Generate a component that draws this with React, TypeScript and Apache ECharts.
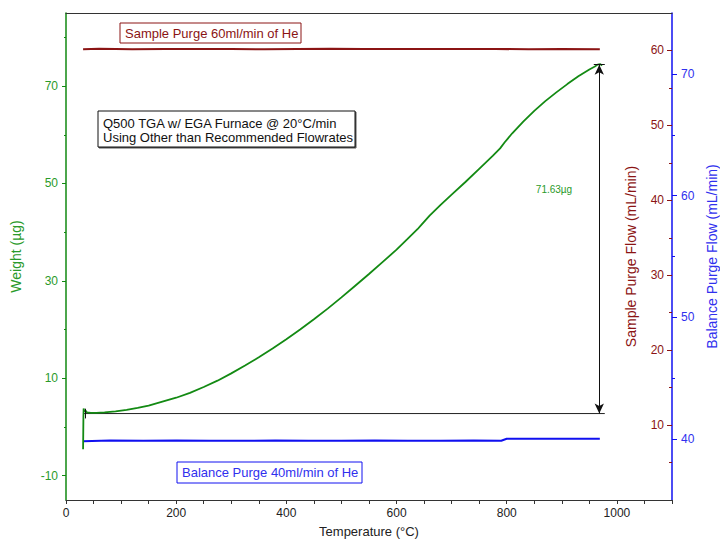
import React, { useEffect, useRef } from "react";
import * as echarts from "echarts";

// ---- data ----
const weightTemp = [31, 31.3, 31.6, 32, 33, 35, 38, 45, 55, 70, 90, 110, 130, 150, 175, 200, 225, 250, 275, 300, 325, 350, 375, 400, 425, 450, 475, 500, 525, 550, 575, 600, 620, 638, 645, 660, 680, 700, 725, 750, 775, 788, 796, 810, 830, 850, 870, 890, 910, 930, 950, 960, 965, 970, 973];
const weightVals = [-4.6, -1.5, 2.0, 3.8, 3.2, 3.4, 3.0, 2.9, 2.9, 3.0, 3.2, 3.5, 3.9, 4.4, 5.2, 6.0, 7.0, 8.2, 9.5, 11.0, 12.6, 14.3, 16.1, 18.0, 20.0, 22.1, 24.3, 26.6, 29.0, 31.4, 33.9, 36.4, 38.6, 40.6, 41.5, 43.4, 45.6, 47.7, 50.3, 53.0, 55.7, 57.2, 58.4, 60.3, 62.7, 64.9, 66.9, 68.7, 70.4, 72.0, 73.4, 74.0, 74.4, 74.5, 74.2];

const sampleTemp = [31, 60, 120, 180, 240, 300, 360, 420, 480, 540, 600, 660, 720, 780, 840, 900, 969];
const sampleFlow = [60.15, 60.22, 60.15, 60.2, 60.18, 60.2, 60.15, 60.2, 60.22, 60.18, 60.2, 60.2, 60.18, 60.2, 60.15, 60.18, 60.15];

const balanceTemp = [31, 80, 140, 200, 260, 320, 380, 440, 500, 560, 620, 680, 740, 790, 800, 860, 920, 969];
const balanceFlow = [39.82, 39.88, 39.86, 39.88, 39.86, 39.86, 39.88, 39.86, 39.86, 39.88, 39.86, 39.86, 39.88, 39.87, 40.03, 40.04, 40.03, 40.04];

const xLabelValues = [0, 200, 400, 600, 800, 1000];
const xTickValues = [0, 50, 100, 150, 200, 250, 300, 350, 400, 450, 500, 550, 600, 650, 700, 750, 800, 850, 900, 950, 1000, 1050, 1100];
const weightLabelValues = [-10, 10, 30, 50, 70];
const weightMinorValues = [0, 20, 40, 60, 80];
const sampleLabelValues = [10, 20, 30, 40, 50, 60];
const sampleMinorValues = [5, 15, 25, 35, 45, 55];
const balanceLabelValues = [40, 50, 60, 70];
const balanceMinorValues = [45, 55, 65];

// step annotation (weight change)
const stepStartTemp = 31;
const stepEndTemp = 978;
const stepArrowTemp = 968;
const stepBase = 2.75;
const stepTop = 74.38;
const stepLabel = "71.63µg";

const FONT = '"Liberation Sans", Arial, sans-serif';
const GREEN = "#138a13";
const GREEN_TXT = "#2a9a2a";
const RED = "#8b1414";
const BLUE = "#1010f0";
const BLUE_TXT = "#3030ee";

const zip = (a: number[], b: number[]) => a.map((v, i) => [v, b[i]]);
const plain = (v: number) => String(v);

export default function App() {
  const ref = useRef<HTMLDivElement>(null);
  useEffect(() => {
    const chart = echarts.init(ref.current!, null, { renderer: "svg" });
    const option: any = {
      animation: false,
      backgroundColor: "#fff",
      grid: { left: 66, right: 48, top: 13, bottom: 41, outerBoundsMode: "none" },
      xAxis: [
        {
          type: "value", min: 0, max: 1100, position: "bottom",
          axisLine: { onZero: false, lineStyle: { color: "#333", width: 1 } },
          axisTick: { customValues: xTickValues, length: 4, lineStyle: { color: "#333" } },
          axisLabel: { customValues: xLabelValues, formatter: plain, color: "#222", fontSize: 12, fontFamily: FONT, margin: 7 },
          splitLine: { show: false },
          name: "Temperature (°C)", nameLocation: "middle", nameGap: 25,
          nameTextStyle: { color: "#222", fontSize: 13, fontFamily: FONT },
        },
        {
          type: "value", min: 0, max: 1100, position: "top",
          axisLine: { show: true, onZero: false, lineStyle: { color: "#333", width: 1 } },
          axisTick: { show: false }, axisLabel: { show: false }, splitLine: { show: false },
        },
      ],
      yAxis: [
        {
          type: "value", min: -15, max: 85, position: "left",
          axisLine: { show: true, onZero: false, lineStyle: { color: "#118811", width: 1.5 } },
          axisTick: { customValues: weightLabelValues, length: 4, lineStyle: { color: "#118811" } },
          axisLabel: { customValues: weightLabelValues, formatter: plain, color: GREEN_TXT, fontSize: 12, fontFamily: FONT, margin: 8 },
          splitLine: { show: false },
          name: "Weight (µg)", nameLocation: "middle", nameGap: 43,
          nameTextStyle: { color: GREEN_TXT, fontSize: 14, fontFamily: FONT },
        },
        {
          type: "value", min: -15, max: 85, position: "left",
          axisLine: { show: false, onZero: false },
          axisTick: { customValues: weightMinorValues, length: 2, lineStyle: { color: "#118811" } },
          axisLabel: { show: false }, splitLine: { show: false },
        },
        {
          type: "value", min: 0, max: 65, position: "right",
          axisLine: { show: false, onZero: false },
          axisTick: { show: true, inside: true, customValues: sampleLabelValues, length: 5, lineStyle: { color: RED } },
          axisLabel: { inside: true, customValues: sampleLabelValues, formatter: plain, color: RED, fontSize: 12, fontFamily: FONT, margin: 8 },
          splitLine: { show: false },
          name: "Sample Purge Flow (mL/min)", nameLocation: "middle", nameGap: -48,
          nameTextStyle: { color: RED, fontSize: 14, fontFamily: FONT },
        },
        {
          type: "value", min: 0, max: 65, position: "right",
          axisLine: { show: false, onZero: false },
          axisTick: { show: true, inside: true, customValues: sampleMinorValues, length: 3, lineStyle: { color: RED } },
          axisLabel: { show: false }, splitLine: { show: false },
        },
        {
          type: "value", min: 35, max: 75, position: "right",
          axisLine: { show: true, onZero: false, lineStyle: { color: BLUE, width: 1.5 } },
          axisTick: { show: true, customValues: balanceLabelValues, length: 5, lineStyle: { color: BLUE } },
          axisLabel: { customValues: balanceLabelValues, formatter: plain, color: BLUE_TXT, fontSize: 12, fontFamily: FONT, margin: 9 },
          splitLine: { show: false },
          name: "Balance Purge Flow (mL/min)", nameLocation: "middle", nameGap: 33,
          nameTextStyle: { color: BLUE_TXT, fontSize: 14, fontFamily: FONT },
        },
        {
          type: "value", min: 35, max: 75, position: "right",
          axisLine: { show: false, onZero: false },
          axisTick: { show: true, customValues: balanceMinorValues, length: 3, lineStyle: { color: BLUE } },
          axisLabel: { show: false }, splitLine: { show: false },
        },
      ],
      series: [
        {
          type: "line", name: "Sample Purge", xAxisIndex: 0, yAxisIndex: 2, data: zip(sampleTemp, sampleFlow),
          symbol: "none", lineStyle: { color: RED, width: 2 }, silent: true,
        },
        {
          type: "line", name: "Balance Purge", xAxisIndex: 0, yAxisIndex: 4, data: zip(balanceTemp, balanceFlow),
          symbol: "none", lineStyle: { color: BLUE, width: 2 }, silent: true,
        },
        {
          type: "line", name: "Step", xAxisIndex: 0, yAxisIndex: 0,
          data: [[stepStartTemp, stepBase], [stepEndTemp, stepBase]],
          symbol: "none", lineStyle: { color: "#222", width: 1 }, silent: true,
          markLine: {
            silent: true, animation: false,
            symbol: ["arrow", "arrow"], symbolSize: [7, 10],
            label: { show: false },
            lineStyle: { color: "#111", width: 1, type: "solid" },
            data: [
              [{ coord: [stepArrowTemp, stepBase] }, { coord: [stepArrowTemp, stepTop] }],
              [{ coord: [stepArrowTemp - 10, stepTop], symbol: "none" }, { coord: [stepArrowTemp + 10, stepTop], symbol: "none" }],
              [{ coord: [stepStartTemp + 4, stepBase - 1.0], symbol: "none" }, { coord: [stepStartTemp + 4, stepBase + 1.0], symbol: "none" }],
            ],
          },
        },
        {
          type: "line", name: "Weight", xAxisIndex: 0, yAxisIndex: 0, data: zip(weightTemp, weightVals),
          symbol: "none", lineStyle: { color: GREEN, width: 1.8 }, silent: true,
        },
      ],
      graphic: [
        { type: "rect", shape: { x: 120, y: 23, width: 181, height: 20 }, style: { fill: "#fff", stroke: RED, lineWidth: 1 } },
        { type: "text", x: 125, y: 33, style: { text: "Sample Purge 60ml/min of He", fill: RED, font: `13px ${FONT}`, textVerticalAlign: "middle" } },
        { type: "rect", shape: { x: 99, y: 112, width: 257, height: 36 }, style: { fill: "#555", stroke: "#555", lineWidth: 1 } },
        { type: "rect", shape: { x: 98, y: 111, width: 257, height: 36 }, style: { fill: "#fff", stroke: "#111", lineWidth: 1 } },
        { type: "text", x: 103, y: 123, style: { text: "Q500 TGA w/ EGA Furnace @ 20°C/min", fill: "#111", font: `13px ${FONT}`, textVerticalAlign: "middle" } },
        { type: "text", x: 103, y: 137, style: { text: "Using Other than Recommended Flowrates", fill: "#111", font: `13px ${FONT}`, textVerticalAlign: "middle" } },
        { type: "rect", shape: { x: 177, y: 462, width: 185, height: 21 }, style: { fill: "#fff", stroke: BLUE, lineWidth: 1 } },
        { type: "text", x: 182, y: 472.5, style: { text: "Balance Purge 40ml/min of He", fill: BLUE_TXT, font: `13px ${FONT}`, textVerticalAlign: "middle" } },
        { type: "text", x: 554, y: 189, style: { text: stepLabel, fill: GREEN_TXT, font: `10px ${FONT}`, textAlign: "center", textVerticalAlign: "middle" } },
      ],
    };
    chart.setOption(option);
    return () => chart.dispose();
  }, []);
  return <div ref={ref} style={{ position: "fixed", left: 0, top: 0, width: 720, height: 541, background: "#fff" }} />;
}
